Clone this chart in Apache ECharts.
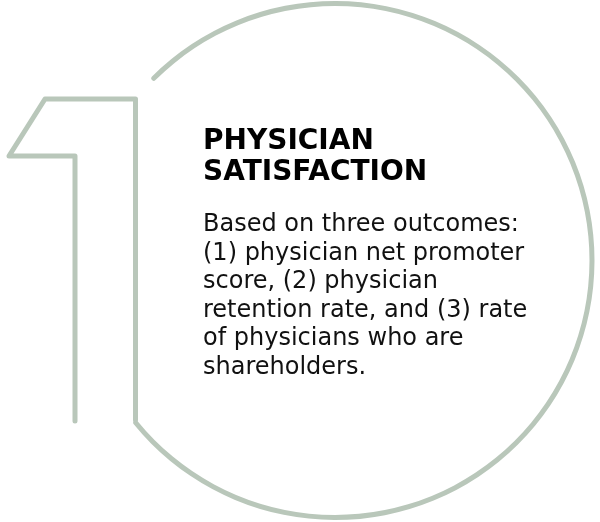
<!DOCTYPE HTML>
<html>
<head>
	<meta charset="utf-8" />
	<title>Physician Satisfaction</title>
	<script src="https://cdn.jsdelivr.net/npm/echarts@6/dist/echarts.min.js"></script>
	<style>
		html, body { margin: 0; padding: 0; background: #fff; }
	</style>
</head>
<body>
	<div id="main" style="width: 600px;height:522px;"></div>
	<script type="text/javascript">
		// outline of the big "1", as [x, y] in page pixels (y grows down)
		var oneX = [75, 75, 9, 45, 135.5, 135.5];
		var oneY = [421, 156, 156, 99, 99, 420];

		// circle arc: visible part and gap, in degrees
		var arcDegrees = [276.8, 83.2];

		var titleLines = ["PHYSICIAN", "SATISFACTION"];
		var bodyLines = [
			"Based on three outcomes:",
			"(1) physician net promoter",
			"score, (2) physician",
			"retention rate, and (3) rate",
			"of physicians who are",
			"shareholders."
		];

		var strokeColor = "#b9c7ba";

		var onePoints = [];
		for (var i = 0; i < oneX.length; i++) {
			onePoints.push([oneX[i], oneY[i]]);
		}

		var myChart = echarts.init(document.getElementById("main"));

		var option = {
			animation: false,
			backgroundColor: "#fff",
			grid: { left: 0, right: 0, top: 0, bottom: 0 },
			xAxis: { type: "value", min: 0, max: 600, show: false },
			yAxis: { type: "value", min: 0, max: 522, inverse: true, show: false },
			title: [{
				text: titleLines.join("\n"),
				left: 203,
				top: 126,
				padding: 0,
				textStyle: {
					fontFamily: "DejaVu Sans",
					fontWeight: "bold",
					fontSize: 28,
					lineHeight: 31,
					color: "#000"
				}
			}, {
				text: bodyLines.join("\n"),
				left: 203,
				top: 211,
				padding: 0,
				textStyle: {
					fontFamily: "DejaVu Sans",
					fontWeight: "normal",
					fontSize: 24,
					lineHeight: 28.5,
					color: "#111"
				}
			}],
			series: [{
				type: "line",
				data: onePoints,
				showSymbol: false,
				silent: true,
				lineStyle: { color: strokeColor, width: 5, cap: "round", join: "round" }
			}, {
				type: "pie",
				center: [335, 260.5],
				radius: [254.5, 259.5],
				startAngle: 135.4,
				clockwise: true,
				silent: true,
				label: { show: false },
				labelLine: { show: false },
				data: [
					{ value: arcDegrees[0], itemStyle: { color: strokeColor, borderRadius: 2.5 } },
					{ value: arcDegrees[1], itemStyle: { color: "transparent" } }
				]
			}]
		};

		myChart.setOption(option);
	</script>
</body>
</html>
